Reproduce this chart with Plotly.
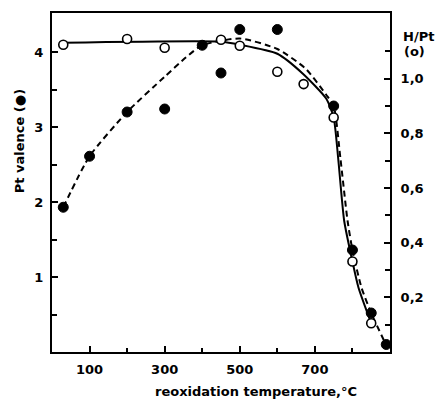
import plotly.graph_objects as go

# Pt valence (filled circles, left axis)
pt_temp = [30, 100, 200, 300, 400, 450, 500, 600, 750, 800, 850, 890]
pt_valence = [1.93, 2.61, 3.20, 3.24, 4.09, 3.72, 4.30, 4.30, 3.28, 1.36, 0.52, 0.10]

# H/Pt (open circles, right axis)
h_temp = [30, 200, 300, 450, 500, 600, 670, 750, 800, 850]
h_pt = [1.124, 1.145, 1.113, 1.142, 1.120, 1.025, 0.980, 0.858, 0.331, 0.105]

# dashed guide curve through valence data (left axis units)
dash_temp = [30, 100, 200, 300, 357, 400, 500, 600, 675, 730, 750, 768, 787, 800, 824, 850, 890]
dash_val = [1.93, 2.61, 3.20, 3.67, 3.93, 4.09, 4.18, 4.04, 3.78, 3.43, 3.28, 2.58, 1.75, 1.36, 0.86, 0.52, 0.09]

# solid guide curve through H/Pt data (right axis units)
solid_temp = [30, 450, 500, 600, 668, 730, 750, 762, 778, 800, 816, 850]
solid_h = [1.131, 1.135, 1.124, 1.091, 1.018, 0.927, 0.858, 0.709, 0.480, 0.331, 0.236, 0.105]

x_ticks = [100, 300, 500, 700]
x_minor = [200, 400, 600, 800]
y_ticks = [1, 2, 3, 4]
y_minor = [0.5, 1.5, 2.5, 3.5]
y2_ticks = [0.2, 0.4, 0.6, 0.8, 1.0]
y2_ticktext = ["0,2", "0,4", "0,6", "0,8", "1,0"]
y2_minor = [0.1, 0.3, 0.5, 0.7, 0.9, 1.1]

FONT = "DejaVu Sans"
fig = go.Figure()

fig.add_trace(go.Scatter(x=dash_temp, y=dash_val, mode="lines", line=dict(color="black", width=2, dash="6px,4px", shape="spline", smoothing=0.6), yaxis="y", hoverinfo="skip"))
fig.add_trace(go.Scatter(x=solid_temp, y=solid_h, mode="lines", line=dict(color="black", width=2, shape="spline", smoothing=0.6), yaxis="y2", hoverinfo="skip"))
fig.add_trace(go.Scatter(x=pt_temp, y=pt_valence, mode="markers", marker=dict(color="black", size=10, line=dict(color="black", width=1)), yaxis="y"))
fig.add_trace(go.Scatter(x=h_temp, y=h_pt, mode="markers", marker=dict(color="white", size=9, line=dict(color="black", width=1.6)), yaxis="y2"))

axfont = dict(family=FONT, size=13, color="black", weight="bold")
titlefont = dict(family=FONT, size=13, color="black", weight="bold")

fig.update_layout(
    width=438, height=400,
    margin=dict(l=52, r=48, t=11, b=48),
    paper_bgcolor="white", plot_bgcolor="white",
    showlegend=False,
    xaxis=dict(range=[0, 900], tickvals=x_ticks, ticks="inside", ticklen=6, tickwidth=2, tickcolor="black",
               showline=True, linecolor="black", linewidth=2, mirror=True, showgrid=False, zeroline=False,
               tickfont=axfont, ticklabelstandoff=4,
               minor=dict(tickvals=x_minor, ticks="inside", ticklen=4, tickwidth=1.5, tickcolor="black", showgrid=False)),
    yaxis=dict(range=[0, 4.52], tickvals=y_ticks, ticks="inside", ticklen=6, tickwidth=2, tickcolor="black",
               showline=True, linecolor="black", linewidth=2, showgrid=False, zeroline=False,
               tickfont=axfont, ticklabelstandoff=4,
               minor=dict(tickvals=y_minor, ticks="inside", ticklen=5, tickwidth=1.5, tickcolor="black", showgrid=False)),
    yaxis2=dict(range=[0, 1.24], overlaying="y", side="right", tickvals=y2_ticks, ticktext=y2_ticktext,
                ticks="inside", ticklen=6, tickwidth=2, tickcolor="black",
                showline=True, linecolor="black", linewidth=2, showgrid=False, zeroline=False,
                tickfont=axfont, ticklabelstandoff=6,
                minor=dict(tickvals=y2_minor, ticks="inside", ticklen=5, tickwidth=1.5, tickcolor="black", showgrid=False)),
    annotations=[
        dict(text="reoxidation temperature,°C", x=256, y=392, showarrow=False,
             font=titlefont, xanchor="center", yanchor="middle"),
        dict(text="Pt valence (●)", x=19, y=140, showarrow=False, textangle=-90,
             font=titlefont, xanchor="center", yanchor="middle"),
        dict(text="H/Pt", x=418, y=35, showarrow=False, font=axfont, xanchor="center", yanchor="middle"),
        dict(text="(o)", x=414, y=50, showarrow=False, font=axfont, xanchor="center", yanchor="middle"),
    ],
)

# convert pixel-positioned annotations to paper coordinates
pw, ph = 438 - 52 - 48, 400 - 11 - 48
for a in fig.layout.annotations:
    px, py = a.x, a.y
    a.xref = "paper"; a.yref = "paper"
    a.x = (px - 52) / pw
    a.y = (400 - 48 - py) / ph

fig.write_html("out.html")
